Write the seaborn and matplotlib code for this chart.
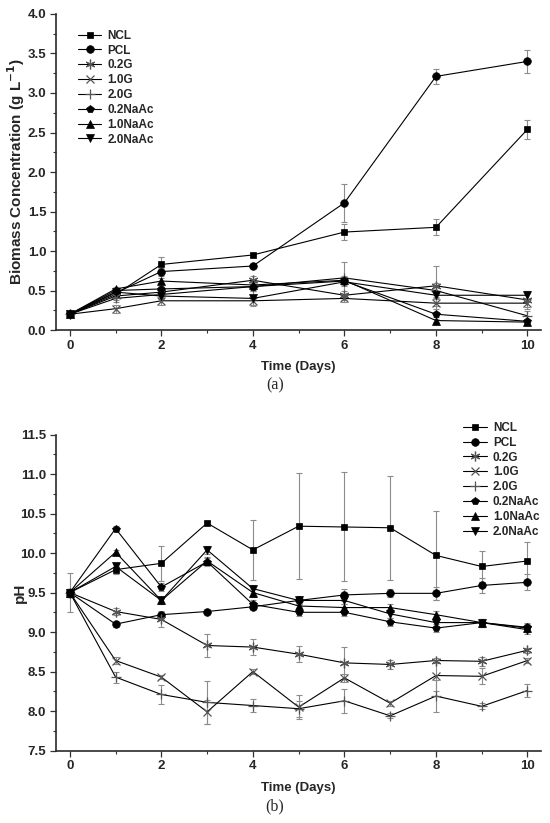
import numpy as np
import pandas as pd
import matplotlib
matplotlib.use("Agg")
import matplotlib.pyplot as plt
from matplotlib.ticker import AutoMinorLocator, MultipleLocator
import seaborn as sns

# --- data ---
series = ['NCL', 'PCL', '0.2G', '1.0G', '2.0G', '0.2NaAc', '1.0NaAc', '2.0NaAc']

# (a) biomass concentration, g/L
days_a = [0, 1, 2, 4, 6, 8, 10]
bio_ncl = [0.20, 0.45, 0.83, 0.95, 1.24, 1.30, 2.54]
bio_pcl = [0.20, 0.47, 0.74, 0.81, 1.61, 3.21, 3.40]
bio_g02 = [0.20, 0.43, 0.48, 0.63, 0.44, 0.56, 0.38]
bio_g10 = [0.20, 0.27, 0.37, 0.37, 0.40, 0.34, 0.34]
bio_g20 = [0.20, 0.40, 0.45, 0.55, 0.66, 0.50, 0.18]
bio_na02 = [0.20, 0.50, 0.52, 0.55, 0.62, 0.20, 0.11]
bio_na10 = [0.20, 0.52, 0.62, 0.57, 0.63, 0.12, 0.10]
bio_na20 = [0.20, 0.48, 0.43, 0.40, 0.61, 0.44, 0.44]

bio_err_ncl = [0.02, 0.03, 0.10, 0.03, 0.10, 0.10, 0.12]
bio_err_pcl = [0.02, 0.03, 0.05, 0.03, 0.24, 0.10, 0.15]
bio_err_g02 = [0.02, 0.05, 0.05, 0.05, 0.06, 0.25, 0.12]
bio_err_g10 = [0.02, 0.05, 0.05, 0.05, 0.05, 0.08, 0.05]
bio_err_g20 = [0.02, 0.04, 0.05, 0.05, 0.20, 0.10, 0.06]
bio_err_na02 = [0.02, 0.03, 0.04, 0.04, 0.05, 0.03, 0.02]
bio_err_na10 = [0.02, 0.03, 0.04, 0.04, 0.05, 0.02, 0.02]
bio_err_na20 = [0.02, 0.03, 0.04, 0.10, 0.05, 0.05, 0.05]

# (b) pH
days_b = [0, 1, 2, 3, 4, 5, 6, 7, 8, 9, 10]
ph_ncl = [9.50, 9.79, 9.87, 10.38, 10.04, 10.34, 10.33, 10.32, 9.97, 9.83, 9.90]
ph_pcl = [9.50, 9.10, 9.22, 9.26, 9.32, 9.40, 9.47, 9.49, 9.49, 9.59, 9.63]
ph_g02 = [9.50, 9.26, 9.16, 8.83, 8.81, 8.72, 8.61, 8.59, 8.64, 8.63, 8.77]
ph_g10 = [9.50, 8.64, 8.43, 7.99, 8.50, 8.05, 8.42, 8.10, 8.45, 8.44, 8.64]
ph_g20 = [9.50, 8.43, 8.21, 8.11, 8.07, 8.03, 8.13, 7.94, 8.19, 8.06, 8.26]
ph_na02 = [9.50, 10.31, 9.57, 9.89, 9.35, 9.25, 9.25, 9.13, 9.05, 9.12, 9.06]
ph_na10 = [9.50, 10.01, 9.40, 9.90, 9.50, 9.33, 9.31, 9.31, 9.22, 9.12, 9.05]
ph_na20 = [9.50, 9.83, 9.40, 10.04, 9.55, 9.40, 9.40, 9.23, 9.12, 9.12, 9.03]

ph_err_ncl = [0.25, 0.05, 0.22, 0.03, 0.38, 0.67, 0.69, 0.66, 0.56, 0.20, 0.24]
ph_err_pcl = [0.05, 0.03, 0.05, 0.03, 0.03, 0.05, 0.08, 0.05, 0.08, 0.10, 0.10]
ph_err_g02 = [0.05, 0.04, 0.10, 0.14, 0.10, 0.10, 0.20, 0.06, 0.03, 0.06, 0.03]
ph_err_g10 = [0.05, 0.04, 0.03, 0.15, 0.03, 0.15, 0.05, 0.03, 0.20, 0.10, 0.03]
ph_err_g20 = [0.05, 0.07, 0.12, 0.27, 0.08, 0.10, 0.15, 0.03, 0.20, 0.04, 0.08]
ph_err_na02 = [0.05, 0.03, 0.05, 0.05, 0.05, 0.05, 0.05, 0.05, 0.05, 0.05, 0.05]
ph_err_na10 = [0.05, 0.03, 0.05, 0.05, 0.05, 0.05, 0.05, 0.05, 0.05, 0.05, 0.05]
ph_err_na20 = [0.05, 0.03, 0.05, 0.05, 0.05, 0.05, 0.05, 0.05, 0.05, 0.05, 0.05]

bio_vals = [bio_ncl, bio_pcl, bio_g02, bio_g10, bio_g20, bio_na02, bio_na10, bio_na20]
bio_errs = [bio_err_ncl, bio_err_pcl, bio_err_g02, bio_err_g10, bio_err_g20,
            bio_err_na02, bio_err_na10, bio_err_na20]
ph_vals = [ph_ncl, ph_pcl, ph_g02, ph_g10, ph_g20, ph_na02, ph_na10, ph_na20]
ph_errs = [ph_err_ncl, ph_err_pcl, ph_err_g02, ph_err_g10, ph_err_g20,
           ph_err_na02, ph_err_na10, ph_err_na20]

# --- styles ---
marker_map = {'NCL': 's', 'PCL': 'o', '0.2G': (6, 2, 0), '1.0G': 'x', '2.0G': '+',
              '0.2NaAc': 'p', '1.0NaAc': '^', '2.0NaAc': 'v'}
size_map = {'NCL': 5, 'PCL': 5.5, '0.2G': 7, '1.0G': 6, '2.0G': 7,
            '0.2NaAc': 6, '1.0NaAc': 5.5, '2.0NaAc': 5.5}
line_markers = {'0.2G', '1.0G', '2.0G'}

sns.set_style('ticks')
plt.rcParams['font.family'] = ['Liberation Sans', 'DejaVu Sans']
plt.rcParams['font.weight'] = 'bold'


def draw_panel(ax, days, vals, errs):
    for name, v, e in zip(series, vals, errs):
        ax.errorbar(days, v, yerr=e, fmt='none', ecolor='#8c8c8c',
                    elinewidth=0.8, capsize=2.5, capthick=0.8, zorder=1)
    for name, v in zip(series, vals):
        if name in line_markers:
            mkw = dict(mfc='none', mec='#555555', mew=0.9)
        else:
            mkw = dict(mfc='black', mec='black', mew=0.5)
        sns.lineplot(x=days, y=v, ax=ax, color='black', linewidth=0.8,
                     marker=marker_map[name], markersize=size_map[name],
                     label=name, zorder=3, **mkw)
    sns.despine(ax=ax)
    for s in ['left', 'bottom']:
        ax.spines[s].set_linewidth(1.2)
        ax.spines[s].set_color('#2a2a2a')
    ax.set_xlim(-0.3, 10.3)
    ax.xaxis.set_major_locator(MultipleLocator(2))
    ax.xaxis.set_minor_locator(AutoMinorLocator(2))
    ax.yaxis.set_major_locator(MultipleLocator(0.5))
    ax.yaxis.set_minor_locator(AutoMinorLocator(2))
    ax.tick_params(which='major', length=4, width=0.9, color='#333333',
                   labelsize=9.5, pad=3)
    ax.tick_params(which='minor', length=2.5, width=0.8, color='#333333')
    for lab in ax.get_xticklabels() + ax.get_yticklabels():
        lab.set_fontweight('bold')
    ax.set_xlabel('Time (Days)', fontsize=9.5, fontweight='bold', labelpad=7)


fig = plt.figure(figsize=(5.5, 8.23), dpi=100)

ax1 = fig.add_axes([0.102, 0.599, 0.882, 0.384])
draw_panel(ax1, days_a, bio_vals, bio_errs)
ax1.set_ylim(0, 4.0)
ax1.set_ylabel('Biomass Concentration (g L$^{\\mathbf{-1}}$)', fontsize=11,
               fontweight='bold')
ax1.yaxis.set_label_coords(-0.061, 0.5)
ax1.legend(loc='upper left', bbox_to_anchor=(0.035, 0.965), frameon=False,
           prop={'size': 8.5, 'weight': 'bold'}, handlelength=2.0,
           handletextpad=0.5, labelspacing=0.24, borderaxespad=0)

ax2 = fig.add_axes([0.102, 0.088, 0.882, 0.384])
draw_panel(ax2, days_b, ph_vals, ph_errs)
ax2.set_ylim(7.5, 11.5)
ax2.set_ylabel('pH', fontsize=11, fontweight='bold')
ax2.yaxis.set_label_coords(-0.061, 0.5)
ax2.legend(loc='upper left', bbox_to_anchor=(0.83, 1.055), frameon=False,
           prop={'size': 8.5, 'weight': 'bold'}, handlelength=2.0,
           handletextpad=0.5, labelspacing=0.24, borderaxespad=0)

fig.text(0.5, 1 - 385 / 823, '(a)', ha='center', va='center', fontsize=11.5,
         family='Liberation Serif', fontweight='normal')
fig.text(0.5, 1 - 806 / 823, '(b)', ha='center', va='center', fontsize=11.5,
         family='Liberation Serif', fontweight='normal')

fig.savefig('out.png', dpi=100)
